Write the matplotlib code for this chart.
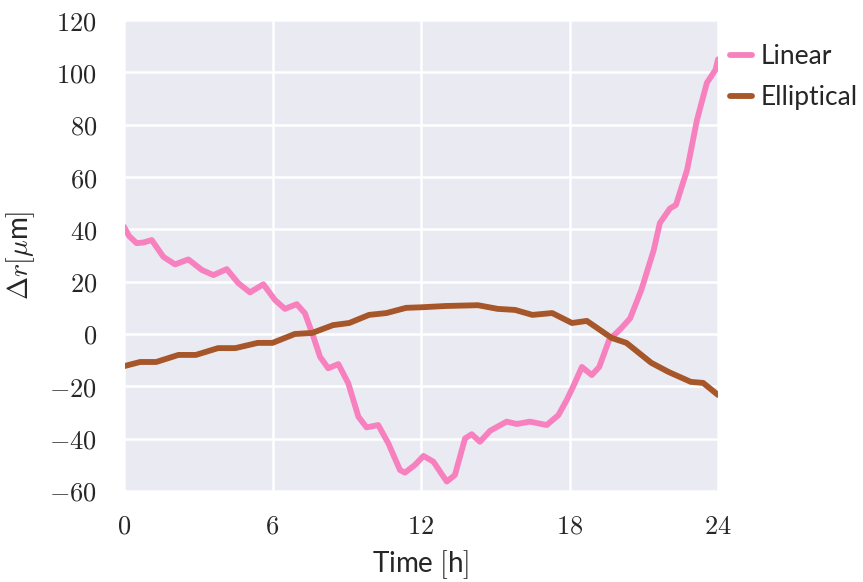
import matplotlib
matplotlib.use('Agg')
import matplotlib.pyplot as plt
import seaborn as sns
from matplotlib.ticker import FuncFormatter

# data (time in hours, displacement in micrometres)
linear_t = [0, 0.2, 0.51, 0.8, 1.12, 1.59, 2.06, 2.6, 3.14, 3.61, 4.15, 4.62, 5.09,
            5.63, 6.1, 6.5, 6.98, 7.31, 7.65, 7.92, 8.25, 8.66, 9.06, 9.47, 9.8,
            10.27, 10.68, 11.15, 11.35, 11.76, 12.1, 12.5, 13.04, 13.37, 13.78, 14.05,
            14.38, 14.79, 15.46, 15.87, 16.4, 17.08, 17.55, 17.89, 18.2, 18.5, 18.9,
            19.2, 19.6, 20.1, 20.45, 20.9, 21.4, 21.65, 22.06, 22.3, 22.75, 23.15,
            23.55, 23.9, 24.0]
linear_r = [41, 37.5, 34.7, 35, 35.9, 29.5, 26.6, 28.5, 24.5, 22.5, 24.8, 19.4, 15.9,
            19, 13, 9.6, 11.4, 7.9, -1, -8.7, -13.1, -11.5, -18.8, -31.6, -35.7,
            -34.8, -41.8, -52, -53, -50, -46.6, -48.8, -56.4, -53.9, -39.9, -38.3,
            -41.2, -37, -33.5, -34.4, -33.5, -34.8, -31, -25.2, -19, -12.6, -15.7,
            -12.6, -2.3, 2.3, 6, 16.8, 32, 42.4, 48, 49.3, 62.7, 81.8,
            96, 101, 105]

ellip_t = [0, 0.65, 1.3, 2.2, 2.9, 3.8, 4.5, 5.4, 6.0, 6.9, 7.6, 8.45, 9.1, 9.9, 10.6,
           11.4, 12.0, 13.0, 14.3, 15.1, 15.8, 16.5, 17.3, 18.1, 18.7, 19.7, 20.3,
           21.3, 22.0, 22.9, 23.4, 24.0]
ellip_r = [-12.3, -10.7, -10.7, -8, -8, -5.4, -5.4, -3.4, -3.4, 0, 0.4, 3.4, 4.2, 7.3, 8,
           10, 10.2, 10.7, 11, 9.6, 9.2, 7.3, 8, 4.2, 5, -1.5, -3.4,
           -11, -14.5, -18.3, -18.7, -23.3]

x_ticks = [0, 6, 12, 18, 24]

sns.set_style('darkgrid')
plt.rcParams['mathtext.fontset'] = 'cm'
plt.rcParams['font.family'] = ['Lato', 'DejaVu Sans']
plt.rcParams['grid.linewidth'] = 1.8

fig = plt.figure(figsize=(8.63, 5.82), dpi=100)
ax = fig.add_axes([0.1437, 0.1564, 0.6883, 0.8092])

ax.plot(linear_t, linear_r, color='#f781bf', lw=4.2, label='Linear',
        solid_joinstyle='round', solid_capstyle='round')
ax.plot(ellip_t, ellip_r, color='#a65628', lw=4.2, label='Elliptical',
        solid_joinstyle='round', solid_capstyle='round')

ax.set_xlim(0, 24)
ax.set_ylim(-60, 120)
ax.set_xticks(x_ticks)
ax.set_yticks(range(-60, 121, 20))
fmt = FuncFormatter(lambda v, p: '$%d$' % v)
ax.xaxis.set_major_formatter(fmt)
ax.yaxis.set_major_formatter(fmt)
ax.tick_params(labelsize=19, colors='#262626')
ax.tick_params(axis='y', pad=16)
ax.tick_params(axis='x', pad=13)

ax.set_xlabel('Time $[$h$]$', fontsize=20, color='#262626', labelpad=7)
ax.set_ylabel(r'$\Delta r[\mu$m$]$', fontsize=20, color='#262626', labelpad=9)

ax.legend(loc='upper left', bbox_to_anchor=(730 / 863, 1 - 44 / 582),
          bbox_transform=fig.transFigure, frameon=False, fontsize=19,
          handlelength=0.85, handletextpad=0.3, borderaxespad=0, borderpad=0,
          labelspacing=0.6)

fig.savefig('out.png', dpi=100)
